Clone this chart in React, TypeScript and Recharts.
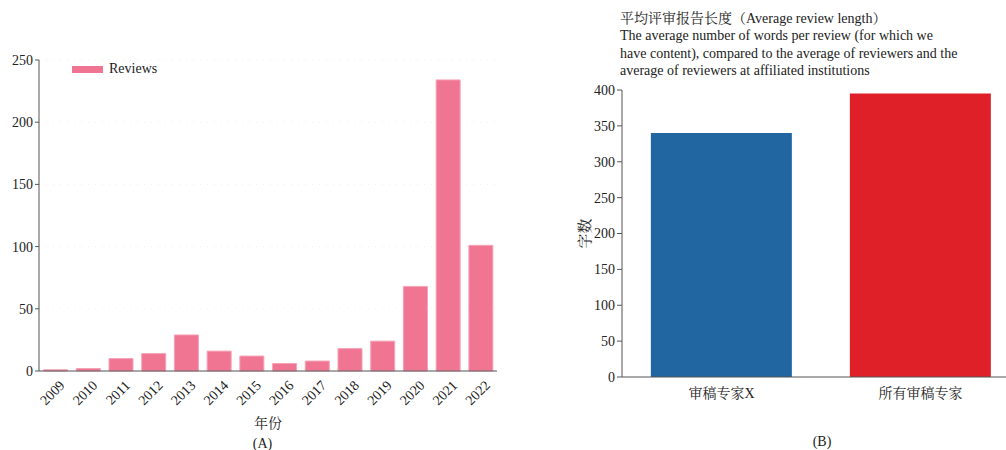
import React from "react";
import { Bar, BarChart, CartesianGrid, Cell, XAxis, YAxis } from "recharts";

// (A) reviews per year
const years = ["2009", "2010", "2011", "2012", "2013", "2014", "2015", "2016", "2017", "2018", "2019", "2020", "2021", "2022"];
const reviews = [1, 2, 10, 14, 29, 16, 12, 6, 8, 18, 24, 68, 234, 101];
const reviewTicks = [0, 50, 100, 150, 200, 250];

// (B) average review length
const groups = ["审稿专家X", "所有审稿专家"];
const wordCounts = [340, 395];
const groupColors = ["#2166a0", "#e02028"];
const wordTicks = [0, 50, 100, 150, 200, 250, 300, 350, 400];

const titleLines = [
  "The average number of words per review (for which we",
  "have content), compared to the average of reviewers and the",
  "average of reviewers at affiliated institutions",
];

const FONT = "'Liberation Serif', 'Noto Serif CJK SC', 'Noto Sans CJK SC', serif";
const AXIS = "#555";
const PINK = "#f07592";

const yearData = years.map((y, i) => ({ year: y, reviews: reviews[i] }));
const groupData = groups.map((g, i) => ({ name: g, words: wordCounts[i] }));

function YearTick(props: any) {
  const { x, y, payload } = props;
  return (
    <g transform={`translate(${x + 7},${y + 4}) rotate(-45)`}>
      <text x={0} y={0} textAnchor="end" dominantBaseline="central" fontSize={14} fill="#222" fontFamily={FONT}>
        {payload.value}
      </text>
    </g>
  );
}

function WordsLabel(props: any) {
  const { viewBox } = props;
  const cx = viewBox.x + 25;
  const cy = viewBox.y + viewBox.height / 2;
  return (
    <text x={cx} y={cy} transform={`rotate(-90 ${cx} ${cy})`} textAnchor="middle" dominantBaseline="central" fontSize={15} fill="#222" fontFamily={FONT}>
      字数
    </text>
  );
}

export default function App() {
  const tickStyle = { fontSize: 14, fill: "#222", fontFamily: FONT };
  return (
    <div style={{ position: "absolute", left: 0, top: 0, width: 1006, height: 450, overflow: "hidden", background: "#fff", fontFamily: FONT }}>
      <div style={{ position: "absolute", left: 0, top: 0 }}>
        <BarChart width={520} height={450} data={yearData} margin={{ top: 60, right: 23, bottom: 0, left: 0 }} barCategoryGap="14%">
          <CartesianGrid vertical={false} stroke="#eee" strokeDasharray="1 6" />
          <XAxis
            dataKey="year"
            height={79}
            tickLine={false}
            stroke={AXIS}
            interval={0}
            tick={<YearTick />}
            label={{ value: "年份", position: "insideBottom", offset: 22, fontSize: 14, fill: "#222", fontFamily: FONT }}
          />
          <YAxis
            width={39}
            domain={[0, 250]}
            ticks={reviewTicks}
            tickSize={4}
            tickMargin={2}
            stroke={AXIS}
            tick={tickStyle}
          />
          <Bar dataKey="reviews" name="Reviews" fill={PINK} stroke="#f6a3b6" strokeWidth={1} isAnimationActive={false} />
        </BarChart>
      </div>

      {/* legend */}
      <div style={{ position: "absolute", left: 72, top: 60, display: "flex", alignItems: "center", fontSize: 14, color: "#222", lineHeight: "18px" }}>
        <span style={{ display: "inline-block", width: 31, height: 7, background: PINK, marginRight: 6 }} />
        Reviews
      </div>

      <div style={{ position: "absolute", left: 0, top: 436, width: 525, textAlign: "center", fontSize: 14, color: "#222" }}>(A)</div>

      <div style={{ position: "absolute", left: 620, top: 10, fontSize: 14, lineHeight: "17.3px", color: "#222" }}>
        <div>平均评审报告长度（Average review length）</div>
        {titleLines.map((l) => (
          <div key={l}>{l}</div>
        ))}
      </div>

      <div style={{ position: "absolute", left: 560, top: 0 }}>
        <BarChart width={460} height={450} data={groupData} margin={{ top: 90, right: 0, bottom: 0, left: 0 }} barCategoryGap="14.5%">
          <XAxis dataKey="name" height={73} tickLine={false} stroke={AXIS} tick={tickStyle} tickSize={6} tickMargin={5} />
          <YAxis
            width={62}
            domain={[0, 400]}
            ticks={wordTicks}
            tickSize={5}
            tickMargin={2}
            stroke={AXIS}
            tick={tickStyle}
            label={<WordsLabel />}
          />
          <Bar dataKey="words" isAnimationActive={false}>
            {groupData.map((d, i) => (
              <Cell key={d.name} fill={groupColors[i]} />
            ))}
          </Bar>
        </BarChart>
      </div>

      <div style={{ position: "absolute", left: 760, top: 434, width: 124, textAlign: "center", fontSize: 14, color: "#222" }}>(B)</div>
    </div>
  );
}
